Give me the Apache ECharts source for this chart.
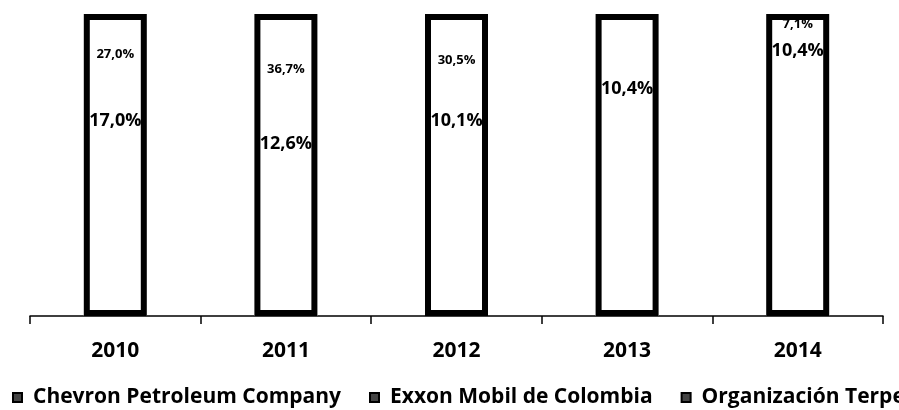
<!DOCTYPE html>
<html>
<head>
<meta charset="utf-8">
<script src="https://cdn.jsdelivr.net/npm/echarts@6/dist/echarts.min.js"></script>
<style>
html,body{margin:0;padding:0;background:#fff;}
#chart{width:899px;height:410px;}
</style>
</head>
<body>
<div id="chart"></div>
<script>
// Categories (years)
var years = ['2010', '2011', '2012', '2013', '2014'];
// Series names (legend order, stacked bottom -> top)
var seriesNames = ['Chevron Petroleum Company', 'Exxon Mobil de Colombia', 'Organización Terpel'];
// Market share values (%)
var chevronShare = [56.0, 50.7, 59.4, 70.0, 82.5];
var exxonShare   = [17.0, 12.6, 10.1, 10.4, 10.4];
var terpelShare  = [27.0, 36.7, 30.5, 19.6, 7.1];
// Whether a value label is legible in the picture
var chevronLabelShown = [false, false, false, false, false];
var exxonLabelShown   = [true, true, true, true, true];
var terpelLabelShown  = [true, true, true, false, true];
// Bar totals (outline of each 100% bar)
var totals = [100, 100, 100, 100, 100];

function fmt(v) { return v.toFixed(1).replace('.', ',') + '%'; }
function labeler(shown) {
  return function (p) { return shown[p.dataIndex] ? fmt(p.value) : ''; };
}

var FONT = '"Open Sans"';
var chart = echarts.init(document.getElementById('chart'), null, {renderer: 'canvas'});

var shares = [chevronShare, exxonShare, terpelShare];
var shownFlags = [chevronLabelShown, exxonLabelShown, terpelLabelShown];
var labelSizes = [16, 18, 13];

var series = seriesNames.map(function (name, i) {
  return {
    name: name,
    type: 'bar',
    stack: 'total',
    barWidth: 63,
    data: shares[i],
    itemStyle: {color: '#ffffff'},
    label: {
      show: true,
      position: 'inside',
      color: '#000',
      fontFamily: FONT,
      fontWeight: 'bold',
      fontSize: labelSizes[i],
      formatter: labeler(shownFlags[i])
    },
    emphasis: {disabled: true},
    z: 2
  };
});

series.push({
  name: 'total',
  type: 'bar',
  barWidth: 63,
  barGap: '-100%',
  data: totals,
  itemStyle: {color: 'rgba(0,0,0,0)', borderColor: '#000', borderWidth: 6},
  silent: true,
  z: 3
});

chart.setOption({
  animation: false,
  backgroundColor: '#fff',
  grid: {left: 30, right: 16, top: 14, bottom: 94, containLabel: false},
  legend: {
    data: seriesNames,
    left: 12,
    top: 384,
    padding: 0,
    width: 3000,
    orient: 'horizontal',
    icon: 'rect',
    itemWidth: 9,
    itemHeight: 9,
    itemGap: 28,
    selectedMode: false,
    itemStyle: {color: '#444', borderColor: '#000', borderWidth: 2},
    textStyle: {
      color: '#000',
      fontFamily: FONT,
      fontWeight: 'bold',
      fontSize: 21,
      lineHeight: 27,
      padding: [0, 0, 0, 6]
    }
  },
  xAxis: {
    type: 'category',
    data: years,
    boundaryGap: true,
    axisLine: {show: true, lineStyle: {color: '#000', width: 1.5}},
    axisTick: {show: true, length: 8, lineStyle: {color: '#000', width: 1.5}},
    axisLabel: {
      color: '#000',
      fontFamily: FONT,
      fontWeight: 'bold',
      fontSize: 21,
      margin: 25
    }
  },
  yAxis: {
    type: 'value',
    min: 0,
    max: 100,
    show: false,
    splitLine: {show: false}
  },
  series: series
});
</script>
</body>
</html>
